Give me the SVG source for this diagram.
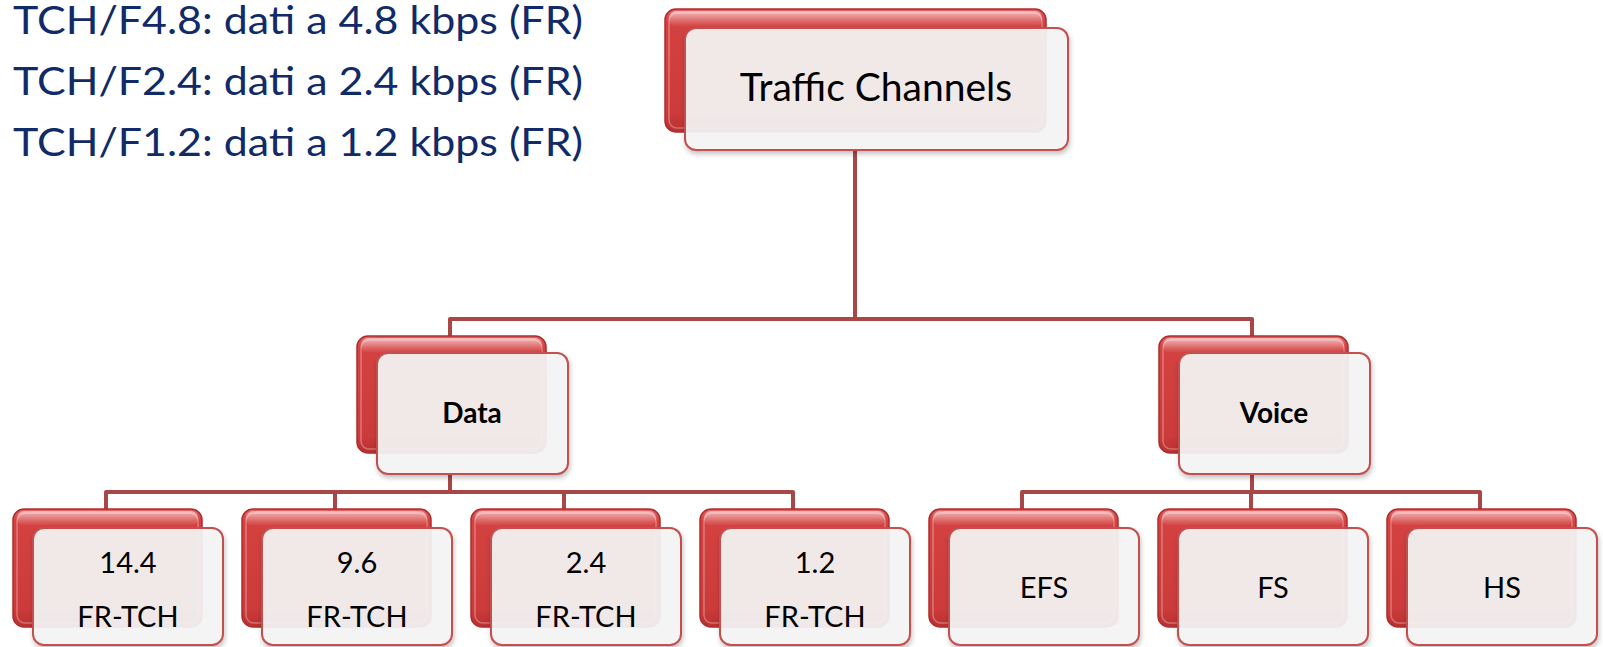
<svg xmlns="http://www.w3.org/2000/svg" width="1603" height="647" viewBox="0 0 1603 647">
<defs>
<linearGradient id="red" x1="0" y1="0" x2="0" y2="1">
<stop offset="0" stop-color="#e46464"/>
<stop offset="0.1" stop-color="#d44141"/>
<stop offset="0.85" stop-color="#cc3b3b"/>
<stop offset="1" stop-color="#b83030"/>
</linearGradient>
<linearGradient id="gloss" x1="0" y1="0" x2="0" y2="1">
<stop offset="0" stop-color="#ffffff" stop-opacity="0.55"/>
<stop offset="1" stop-color="#ffffff" stop-opacity="0"/>
</linearGradient>
<filter id="sh" x="-10%" y="-10%" width="130%" height="140%">
<feDropShadow dx="1" dy="3" stdDeviation="2.5" flood-color="#000" flood-opacity="0.25"/>
</filter>
<style>
.back{fill:url(#red);stroke:#b02c2c;stroke-width:1.5}
.gl{fill:url(#gloss)}
.inner{fill:none;stroke:#ffffff;stroke-opacity:0.3;stroke-width:1.5}
.front{fill:#f5f5f5;fill-opacity:0.92;stroke:#c4504e;stroke-width:2;filter:url(#sh)}
.conn{fill:none;stroke:#a94646;stroke-width:4;stroke-linejoin:round}
.t{font-family:Lato,"Liberation Sans",sans-serif;fill:#000;text-anchor:middle}
.big{font-size:39px}
.mid{font-size:28px;font-weight:bold}
.sm{font-size:29px}
.note{font-family:Lato,"Liberation Sans",sans-serif;font-size:39px;fill:#112a68}
</style>
</defs>
<rect width="1603" height="647" fill="#fff"/>

<g id="notes">
<text class="note" x="13" y="34" textLength="570" lengthAdjust="spacingAndGlyphs">TCH/F4.8: dati a 4.8 kbps (FR)</text>
<text class="note" x="13" y="95" textLength="570" lengthAdjust="spacingAndGlyphs">TCH/F2.4: dati a 2.4 kbps (FR)</text>
<text class="note" x="13" y="156" textLength="570" lengthAdjust="spacingAndGlyphs">TCH/F1.2: dati a 1.2 kbps (FR)</text>
</g>

<g id="connectors">
<path class="conn" d="M855 150 V319"/>
<path class="conn" d="M450 336 V319 H1252 V336"/>
<path class="conn" d="M450 475 V492"/>
<path class="conn" d="M106 509 V492 H793 V509"/>
<path class="conn" d="M335 492 V509 M564 492 V509"/>
<path class="conn" d="M1252 475 V492"/>
<path class="conn" d="M1022 509 V492 H1480 V509"/>
<path class="conn" d="M1251 492 V509"/>
</g>

<g id="node-traffic">
<rect class="back" x="665" y="9" width="381" height="123" rx="11"/>
<rect class="gl" x="669" y="11" width="373" height="16" rx="7"/>
<rect class="inner" x="669" y="13" width="373" height="115" rx="8"/>
<rect class="front" x="685" y="28" width="383" height="122" rx="11"/>
<text class="t big" x="876" y="101">Traffic Channels</text>
</g>

<g id="node-data">
<rect class="back" x="357" y="336" width="189" height="117" rx="11"/>
<rect class="gl" x="361" y="338" width="181" height="15" rx="7"/>
<rect class="inner" x="361" y="340" width="181" height="109" rx="8"/>
<rect class="front" x="377" y="353" width="191" height="121" rx="11"/>
<text class="t mid" x="472" y="423">Data</text>
</g>

<g id="node-voice">
<rect class="back" x="1159" y="336" width="189" height="117" rx="11"/>
<rect class="gl" x="1163" y="338" width="181" height="15" rx="7"/>
<rect class="inner" x="1163" y="340" width="181" height="109" rx="8"/>
<rect class="front" x="1179" y="353" width="191" height="121" rx="11"/>
<text class="t mid" x="1274" y="423">Voice</text>
</g>

<g id="node-144">
<rect class="back" x="13" y="509" width="189" height="118" rx="11"/>
<rect class="gl" x="17" y="511" width="181" height="15" rx="7"/>
<rect class="inner" x="17" y="513" width="181" height="110" rx="8"/>
<rect class="front" x="33" y="528" width="190" height="117" rx="11"/>
<text class="t sm" x="128" y="573">14.4</text>
<text class="t sm" x="128" y="627">FR-TCH</text>
</g>

<g id="node-96">
<rect class="back" x="242" y="509" width="189" height="118" rx="11"/>
<rect class="gl" x="246" y="511" width="181" height="15" rx="7"/>
<rect class="inner" x="246" y="513" width="181" height="110" rx="8"/>
<rect class="front" x="262" y="528" width="190" height="117" rx="11"/>
<text class="t sm" x="357" y="573">9.6</text>
<text class="t sm" x="357" y="627">FR-TCH</text>
</g>

<g id="node-24">
<rect class="back" x="471" y="509" width="189" height="118" rx="11"/>
<rect class="gl" x="475" y="511" width="181" height="15" rx="7"/>
<rect class="inner" x="475" y="513" width="181" height="110" rx="8"/>
<rect class="front" x="491" y="528" width="190" height="117" rx="11"/>
<text class="t sm" x="586" y="573">2.4</text>
<text class="t sm" x="586" y="627">FR-TCH</text>
</g>

<g id="node-12">
<rect class="back" x="700" y="509" width="189" height="118" rx="11"/>
<rect class="gl" x="704" y="511" width="181" height="15" rx="7"/>
<rect class="inner" x="704" y="513" width="181" height="110" rx="8"/>
<rect class="front" x="720" y="528" width="190" height="117" rx="11"/>
<text class="t sm" x="815" y="573">1.2</text>
<text class="t sm" x="815" y="627">FR-TCH</text>
</g>

<g id="node-efs">
<rect class="back" x="929" y="509" width="189" height="118" rx="11"/>
<rect class="gl" x="933" y="511" width="181" height="15" rx="7"/>
<rect class="inner" x="933" y="513" width="181" height="110" rx="8"/>
<rect class="front" x="949" y="528" width="190" height="117" rx="11"/>
<text class="t sm" x="1044" y="598">EFS</text>
</g>

<g id="node-fs">
<rect class="back" x="1158" y="509" width="189" height="118" rx="11"/>
<rect class="gl" x="1162" y="511" width="181" height="15" rx="7"/>
<rect class="inner" x="1162" y="513" width="181" height="110" rx="8"/>
<rect class="front" x="1178" y="528" width="190" height="117" rx="11"/>
<text class="t sm" x="1273" y="598">FS</text>
</g>

<g id="node-hs">
<rect class="back" x="1387" y="509" width="189" height="118" rx="11"/>
<rect class="gl" x="1391" y="511" width="181" height="15" rx="7"/>
<rect class="inner" x="1391" y="513" width="181" height="110" rx="8"/>
<rect class="front" x="1407" y="528" width="190" height="117" rx="11"/>
<text class="t sm" x="1502" y="598">HS</text>
</g>
</svg>
